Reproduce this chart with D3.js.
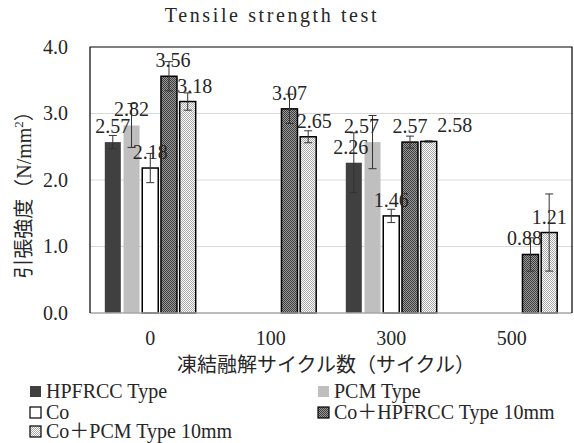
<!DOCTYPE html>
<html>
<head>
<meta charset="utf-8">
<script src="https://cdn.jsdelivr.net/npm/d3@7"></script>
<style>
  body { margin: 0; background: #fff; }
  text { font-family: "Liberation Serif", "Noto Sans CJK JP", serif; fill: #262626; }
</style>
</head>
<body>
<svg id="chart" width="574" height="443"></svg>
<script>
// freeze-thaw cycles
var categories = ["0", "100", "300", "500"];
var seriesNames = ["HPFRCC Type", "PCM Type", "Co", "Co＋HPFRCC Type 10mm", "Co＋PCM Type 10mm"];

// mean tensile strength (N/mm2), null = not tested
var hpfrccVals = [2.57, null, 2.26, null];
var pcmVals    = [2.82, null, 2.57, null];
var coVals     = [2.18, null, 1.46, null];
var coHpfVals  = [3.56, 3.07, 2.57, 0.88];
var coPcmVals  = [3.18, 2.65, 2.58, 1.21];

// error bar half widths
var hpfrccErr = [0.10, null, 0.45, null];
var pcmErr    = [0.33, null, 0.40, null];
var coErr     = [0.22, null, 0.10, null];
var coHpfErr  = [0.22, 0.22, 0.09, 0.25];
var coPcmErr  = [0.13, 0.09, 0.01, 0.58];

var yTicks = [0, 1, 2, 3, 4];

var allVals = [hpfrccVals, pcmVals, coVals, coHpfVals, coPcmVals];
var allErr = [hpfrccErr, pcmErr, coErr, coHpfErr, coPcmErr];

var svg = d3.select("#chart");
var defs = svg.append("defs");

// dotted fills for the two composite series
function dotPattern(id, bg, fg) {
    var p = defs.append("pattern")
        .attr("id", id)
        .attr("width", 2).attr("height", 2)
        .attr("patternUnits", "userSpaceOnUse");
    p.append("rect").attr("width", 2).attr("height", 2).attr("fill", bg);
    p.append("rect").attr("width", 1).attr("height", 1).attr("fill", fg);
    p.append("rect").attr("x", 1).attr("y", 1).attr("width", 1).attr("height", 1).attr("fill", fg);
}
dotPattern("darkDots", "#9a9a9a", "#3c3c3c");
dotPattern("lightDots", "#ffffff", "#a8a8a8");

var fills = ["#404040", "#bfbfbf", "#ffffff", "url(#darkDots)", "url(#lightDots)"];
var strokes = [null, null, "#000", "#000", "#000"];

// hand-nudged labels in the original (series-category -> px)
var labelNudge = { "0-2": -3, "1-2": -11, "3-0": 4, "4-0": 7, "4-1": 6, "4-2": 26, "3-3": -6 };

var plotL = 90, plotR = 572, plotT = 47, plotB = 313;

var x0 = d3.scaleBand()
    .domain(categories)
    .range([plotL, plotR])
    .paddingInner(0.224)
    .paddingOuter(0.112);

var x1 = d3.scaleBand()
    .domain(d3.range(seriesNames.length))
    .range([0, x0.bandwidth()])
    .paddingInner(0.145)
    .paddingOuter(0.07);

var y = d3.scaleLinear()
    .domain([0, 4])
    .range([plotB, plotT]);

// gridlines
svg.append("g")
    .selectAll("line")
    .data(yTicks.filter(function (d) { return d > 0 && d < 4; }))
    .enter().append("line")
    .attr("x1", plotL).attr("x2", plotR)
    .attr("y1", function (d) { return y(d); })
    .attr("y2", function (d) { return y(d); })
    .attr("stroke", "#d9d9d9")
    .attr("stroke-width", 1);

// y axis labels
var yAxis = d3.axisLeft(y)
    .tickValues(yTicks)
    .tickFormat(d3.format(".1f"))
    .tickSize(0)
    .tickPadding(22);
var yg = svg.append("g")
    .attr("transform", "translate(" + plotL + ",0)")
    .call(yAxis);
yg.select(".domain").remove();
yg.attr("font-family", null);
yg.selectAll("text")
    .attr("font-size", 20)
    .attr("fill", "#262626");

// x axis labels
var xAxis = d3.axisBottom(x0)
    .tickSize(0)
    .tickPadding(18);
var xg = svg.append("g")
    .attr("transform", "translate(0," + plotB + ")")
    .call(xAxis);
xg.select(".domain").remove();
xg.attr("font-family", null);
xg.selectAll("text")
    .attr("font-size", 20)
    .attr("fill", "#262626");

// bars
var flat = [];
allVals.forEach(function (vals, s) {
    vals.forEach(function (v, c) {
        if (v !== null) flat.push({ s: s, c: c, cat: categories[c], v: v, e: allErr[s][c] });
    });
});

function barX(d) { return x0(d.cat) + x1(d.s); }
function barMid(d) { return barX(d) + x1.bandwidth() / 2; }

svg.append("g")
    .selectAll("rect")
    .data(flat)
    .enter().append("rect")
    .attr("x", barX)
    .attr("y", function (d) { return y(d.v); })
    .attr("width", x1.bandwidth())
    .attr("height", function (d) { return y(0) - y(d.v); })
    .attr("fill", function (d) { return fills[d.s]; })
    .attr("stroke", function (d) { return strokes[d.s]; })
    .attr("stroke-width", 1.5);

// error bars
var eg = svg.append("g")
    .attr("stroke", "#333")
    .attr("stroke-width", 1);
var errs = eg.selectAll("g")
    .data(flat)
    .enter().append("g");
errs.append("line")
    .attr("x1", barMid)
    .attr("x2", barMid)
    .attr("y1", function (d) { return y(d.v + d.e); })
    .attr("y2", function (d) { return y(d.v - d.e); });
[1, -1].forEach(function (sign) {
    errs.append("line")
        .attr("x1", function (d) { return barMid(d) - 4; })
        .attr("x2", function (d) { return barMid(d) + 4; })
        .attr("y1", function (d) { return y(d.v + sign * d.e); })
        .attr("y2", function (d) { return y(d.v + sign * d.e); });
});

// plot frame
svg.append("line")
    .attr("x1", plotL).attr("x2", plotR)
    .attr("y1", plotB).attr("y2", plotB)
    .attr("stroke", "#a6a6a6").attr("stroke-width", 1.5);
svg.append("path")
    .attr("d", "M" + plotL + "," + plotB + "V" + plotT + "H" + plotR + "V" + plotB)
    .attr("fill", "none")
    .attr("stroke", "#000")
    .attr("stroke-width", 1.2);

// value labels
svg.append("g")
    .selectAll("text")
    .data(flat)
    .enter().append("text")
    .attr("x", function (d) { return barMid(d) + (labelNudge[d.s + "-" + d.c] || 0); })
    .attr("y", function (d) { return y(d.v) - 9; })
    .attr("text-anchor", "middle")
    .attr("font-size", 20)
    .text(function (d) { return d3.format(".2f")(d.v); });

// titles
svg.append("text")
    .attr("x", 272).attr("y", 22)
    .attr("text-anchor", "middle")
    .attr("font-size", 20)
    .attr("letter-spacing", 2.6)
    .text("Tensile strength test");

svg.append("text")
    .attr("x", 326).attr("y", 372)
    .attr("text-anchor", "middle")
    .attr("font-size", 20)
    .text("凍結融解サイクル数（サイクル）");

var yt = svg.append("text")
    .attr("transform", "translate(31,190) rotate(-90)")
    .attr("text-anchor", "middle")
    .attr("font-size", 20);
yt.append("tspan").text("引張強度（N/mm");
yt.append("tspan").attr("font-size", 13).attr("dy", -8).text("2");
yt.append("tspan").attr("dy", 8).text("）");

// legend
var legendPos = [[29, 398], [317, 398], [29, 419], [317, 419], [29, 438]];
var lg = svg.append("g")
    .selectAll("g")
    .data(seriesNames)
    .enter().append("g")
    .attr("transform", function (d, i) { return "translate(" + legendPos[i][0] + "," + legendPos[i][1] + ")"; });
lg.append("rect")
    .attr("x", 1).attr("y", -12)
    .attr("width", 11).attr("height", 11)
    .attr("fill", function (d, i) { return fills[i]; })
    .attr("stroke", function (d, i) { return strokes[i]; })
    .attr("stroke-width", 1.2);
lg.append("text")
    .attr("x", 17)
    .attr("font-size", 20)
    .text(function (d) { return d; });
</script>
</body>
</html>
